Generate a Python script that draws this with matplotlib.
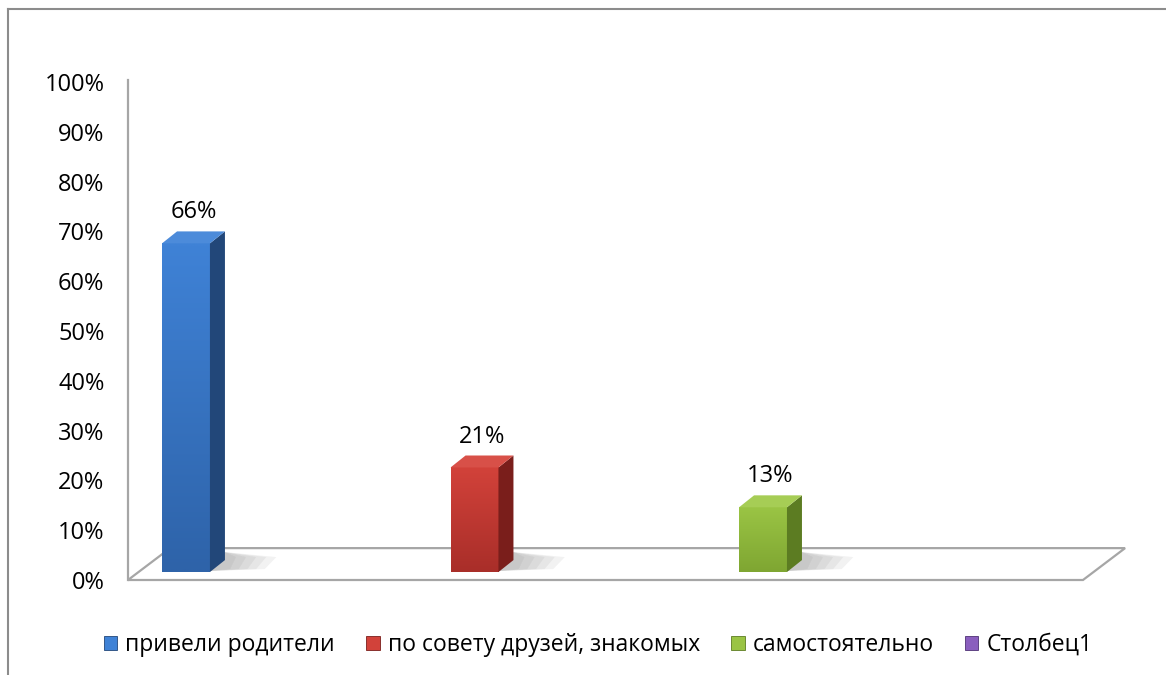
import numpy as np
import matplotlib.pyplot as plt
from matplotlib.patches import Polygon, Patch, Rectangle
from matplotlib.lines import Line2D
from matplotlib.colors import to_rgb

plt.rcParams['font.family'] = ['Open Sans', 'DejaVu Sans']

categories = ['привели родители', 'по совету друзей, знакомых', 'самостоятельно', 'Столбец1']
values = [0.66, 0.21, 0.13]
value_labels = ['66%', '21%', '13%']
yticks = [0.0, 0.1, 0.2, 0.3, 0.4, 0.5, 0.6, 0.7, 0.8, 0.9, 1.0]
ytick_labels = ['0%', '10%', '20%', '30%', '40%', '50%', '60%', '70%', '80%', '90%', '100%']

# front top, front bottom, side, top face
COLORS = [
    ('#3F82D6', '#2E63A9', '#224779', '#4C8BDA'),
    ('#D2423A', '#A92E29', '#7A1E1B', '#D85048'),
    ('#9AC444', '#7FA632', '#5C7C22', '#A6CD55'),
    ('#8A5EBE', '#6A4499', '#4E3174', '#9468C6'),
]

W, H, DPI = 1166, 675, 100
BAR_W = 0.166
DX, DY = 0.052, 0.024    # depth offset of the 3d faces
BASE = 0.016
GRAY = '#A6A6A6'
FS = 17


def px_x(p):
    return p / W


def px_y(p):
    return 1 - p / H


def gradient(ax, x0, x1, y0, y1, c_top, c_bot):
    t = np.linspace(0, 1, 64)[:, None]
    a, b = np.array(to_rgb(c_top)), np.array(to_rgb(c_bot))
    img = (a * (1 - t) + b * t)[:, None, :]
    im = ax.imshow(img, extent=[x0, x1, y0, y1], aspect='auto', zorder=3,
                   interpolation='bilinear')
    rect = Rectangle((x0, y0), x1 - x0, y1 - y0, transform=ax.transData,
                     facecolor='none', edgecolor='none')
    ax.add_patch(rect)
    im.set_clip_path(rect)


def main():
    fig = plt.figure(figsize=(W / DPI, H / DPI), dpi=DPI)
    ax = fig.add_axes([px_x(128), px_y(580), px_x(1130 - 128), (580 - 82) / H])
    xmin, xmax = -0.201, 3.272
    ax.set_xlim(xmin, xmax)
    ax.set_ylim(0, 1)

    # floor
    floor = Polygon([(xmin, 0), (3.109, 0), (3.255, 0.064), (-0.055, 0.064)],
                    closed=True, facecolor='white', edgecolor=GRAY, lw=1.6, zorder=1,
                    clip_on=False)
    ax.add_patch(floor)
    ax.plot([xmin, xmin], [0, 1.004], color=GRAY, lw=1.6, zorder=1, clip_on=False)

    for i, v in enumerate(values):
        ct, cb, cs, ctop = COLORS[i]
        x0, x1 = i - BAR_W / 2, i + BAR_W / 2
        y0, y1 = BASE, BASE + v
        # soft shadow on the floor
        for k in range(5):
            sh = Polygon([(x1, y0 + 0.002), (x1 + 0.07 + 0.03 * k, y0 + 0.006),
                          (x1 + 0.09 + 0.035 * k, y0 + 0.03), (x1 + DX, y0 + 0.04)],
                         closed=True, facecolor='#707070', edgecolor='none',
                         alpha=0.09, zorder=2)
            ax.add_patch(sh)
        gradient(ax, x0, x1, y0, y1, ct, cb)
        side = Polygon([(x1, y0), (x1 + DX, y0 + DY), (x1 + DX, y1 + DY), (x1, y1)],
                       closed=True, facecolor=cs, edgecolor='none', zorder=3)
        top = Polygon([(x0, y1), (x1, y1), (x1 + DX, y1 + DY), (x0 + DX, y1 + DY)],
                      closed=True, facecolor=ctop, edgecolor='none', zorder=3)
        ax.add_patch(side)
        ax.add_patch(top)
        ax.annotate(value_labels[i], (i + DX / 2, y1 + DY), xytext=(0, 5),
                    textcoords='offset points', ha='center', va='bottom',
                    fontsize=FS, color='black', zorder=5)

    ax.set_yticks(yticks)
    ax.set_yticklabels(ytick_labels)
    ax.set_xticks([])
    ax.tick_params(axis='y', length=0, pad=17, labelsize=FS)
    for s in ax.spines.values():
        s.set_visible(False)
    ax.patch.set_alpha(0)

    handles = [Patch(facecolor=COLORS[i][0], edgecolor=COLORS[i][2], lw=0.6)
               for i in range(len(categories))]
    fig.legend(handles, categories, loc='center', bbox_to_anchor=(px_x(598), px_y(645)),
               ncol=4, frameon=False, fontsize=16.5, handlelength=0.6, handleheight=0.6,
               handletextpad=0.35, columnspacing=1.35)

    # chart frame
    fig.add_artist(Line2D([px_x(8), px_x(8)], [0, px_y(9)], color='#8C8C8C', lw=1.5,
                          transform=fig.transFigure))
    fig.add_artist(Line2D([px_x(8), 1], [px_y(9), px_y(9)], color='#8C8C8C', lw=1.5,
                          transform=fig.transFigure))

    fig.savefig('out.png', dpi=DPI)


if __name__ == "__main__":
    main()
